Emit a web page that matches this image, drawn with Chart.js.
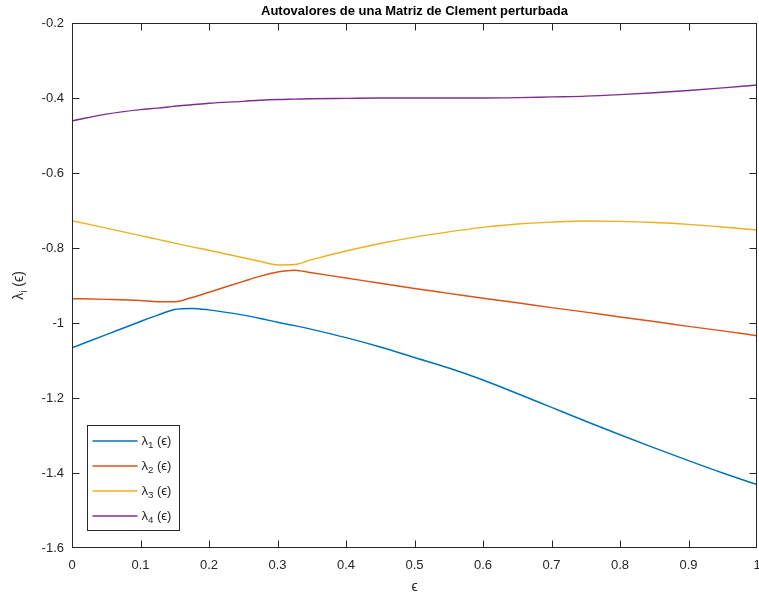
<!DOCTYPE html>
<html>
<head>
<meta charset="utf-8">
<script src="https://cdn.jsdelivr.net/npm/chart.js@4/dist/chart.umd.min.js"></script>
<style>
  html, body { margin: 0; padding: 0; background: #fff; }
  canvas { display: block; }
</style>
</head>
<body>
<canvas id="chart" width="759" height="599"></canvas>
<script>
// epsilon samples and eigenvalues
const eps = [0, 0.05, 0.1, 0.125, 0.15, 0.175, 0.2, 0.25, 0.275, 0.3, 0.325, 0.35, 0.4, 0.45, 0.5, 0.55, 0.6, 0.65, 0.7, 0.75, 0.8, 0.85, 0.9, 0.95, 1];
const lambda1 = [-1.066, -1.031, -0.996, -0.979, -0.964, -0.961, -0.965, -0.979, -0.988, -0.998, -1.007, -1.017, -1.039, -1.064, -1.092, -1.120, -1.152, -1.188, -1.225, -1.262, -1.298, -1.333, -1.367, -1.400, -1.431];
const lambda2 = [-0.935, -0.937, -0.940, -0.943, -0.943, -0.932, -0.918, -0.889, -0.875, -0.864, -0.859, -0.866, -0.880, -0.894, -0.908, -0.921, -0.934, -0.946, -0.959, -0.971, -0.984, -0.996, -1.009, -1.021, -1.034];
const lambda3 = [-0.727, -0.747, -0.767, -0.777, -0.787, -0.797, -0.806, -0.826, -0.836, -0.845, -0.844, -0.831, -0.808, -0.788, -0.771, -0.757, -0.745, -0.736, -0.731, -0.728, -0.729, -0.732, -0.737, -0.744, -0.752];
const lambda4 = [-0.461, -0.443, -0.431, -0.427, -0.422, -0.418, -0.414, -0.409, -0.406, -0.404, -0.403, -0.402, -0.401, -0.400, -0.400, -0.400, -0.400, -0.399, -0.397, -0.395, -0.391, -0.386, -0.380, -0.373, -0.365];

const seriesLabels = ['λ_1 (ϵ)', 'λ_2 (ϵ)', 'λ_3 (ϵ)', 'λ_4 (ϵ)'];
const xTicks = [0, 0.1, 0.2, 0.3, 0.4, 0.5, 0.6, 0.7, 0.8, 0.9, 1];
const yTicks = [-1.6, -1.4, -1.2, -1, -0.8, -0.6, -0.4, -0.2];
const chartTitle = 'Autovalores de una Matriz de Clement perturbada';
const xTitle = 'ϵ';
const yTitle = 'λ_i (ϵ)';

const COLORS = ['#0072BD', '#D95319', '#EDB120', '#7E2F8E'];
const AXIS = '#262626';
const FONT = "'Liberation Sans', Arial, Helvetica, sans-serif";

function fmt(v) {
    return String(parseFloat(v.toFixed(1)));
}

// draws "base_sub rest" with a lowered, smaller subscript
function drawSubText(ctx, text, x, y, size) {
    const m = text.match(/^(.*?)_(\S)(.*)$/);
    const parts = m ? [[m[1], size, 0], [m[2], size * 0.75, size * 0.35], [m[3], size, 0]] : [[text, size, 0]];
    let cx = x;
    parts.forEach(([t, s, dy]) => {
        ctx.font = s + 'px ' + FONT;
        ctx.fillText(t, cx, y + dy);
        cx += ctx.measureText(t).width;
    });
    return cx - x;
}

function measureSubText(ctx, text, size) {
    ctx.save();
    ctx.globalAlpha = 0;
    const w = drawSubText(ctx, text, 0, 0, size);
    ctx.restore();
    return w;
}

const matlabFrame = {
    id: 'matlabFrame',
    afterDraw(chart) {
        const { ctx, chartArea: a, scales: { x, y } } = chart;
        ctx.save();

        // box + inward ticks
        ctx.strokeStyle = AXIS;
        ctx.lineWidth = 1;
        const L = Math.round(a.left) + 0.5, R = Math.round(a.right) - 0.5;
        const T = Math.round(a.top) + 0.5, B = Math.round(a.bottom) - 0.5;
        ctx.strokeRect(L, T, R - L, B - T);
        ctx.beginPath();
        x.ticks.forEach(t => {
            const px = Math.min(Math.max(Math.round(x.getPixelForValue(t.value)) + 0.5, L), R);
            ctx.moveTo(px, B); ctx.lineTo(px, B - 7);
            ctx.moveTo(px, T); ctx.lineTo(px, T + 7);
        });
        y.ticks.forEach(t => {
            const py = Math.min(Math.max(Math.round(y.getPixelForValue(t.value)) + 0.5, T), B);
            ctx.moveTo(L, py); ctx.lineTo(L + 7, py);
            ctx.moveTo(R, py); ctx.lineTo(R - 7, py);
        });
        ctx.stroke();

        // title
        ctx.fillStyle = '#000';
        ctx.font = 'bold 13px ' + FONT;
        ctx.textAlign = 'center';
        ctx.textBaseline = 'middle';
        ctx.fillText(chartTitle, (a.left + a.right) / 2, 11);

        // y axis title (rotated, with subscript)
        ctx.textAlign = 'left';
        ctx.fillStyle = AXIS;
        const yw = measureSubText(ctx, yTitle, 14);
        ctx.save();
        ctx.translate(19, (a.top + a.bottom) / 2);
        ctx.rotate(-Math.PI / 2);
        drawSubText(ctx, yTitle, -yw / 2, 0, 14);
        ctx.restore();

        // legend inside lower-left corner
        const lx = Math.round(a.left) + 15.5, lw = 92;
        const rowH = 25, lh = 105;
        const ly = Math.round(a.bottom) - 17.5 - lh;
        ctx.fillStyle = '#fff';
        ctx.fillRect(lx, ly, lw, lh);
        ctx.strokeStyle = AXIS;
        ctx.lineWidth = 1;
        ctx.strokeRect(lx, ly, lw, lh);
        chart.data.datasets.forEach((ds, i) => {
            const ry = ly + 15.5 + i * rowH;
            ctx.strokeStyle = ds.borderColor;
            ctx.lineWidth = 1.5;
            ctx.beginPath();
            ctx.moveTo(lx + 5, ry);
            ctx.lineTo(lx + 50, ry);
            ctx.stroke();
            ctx.fillStyle = AXIS;
            drawSubText(ctx, ds.label, lx + 54, ry, 13);
        });

        ctx.restore();
    }
};

const series = [lambda1, lambda2, lambda3, lambda4];

new Chart(document.getElementById('chart').getContext('2d'), {
    type: 'line',
    data: {
        datasets: series.map((vals, i) => ({
            label: seriesLabels[i],
            data: eps.map((e, j) => ({ x: e, y: vals[j] })),
            borderColor: COLORS[i],
            backgroundColor: COLORS[i],
            borderWidth: 1.5,
            pointRadius: 0,
            cubicInterpolationMode: 'monotone',
            fill: false
        }))
    },
    options: {
        responsive: false,
        animation: false,
        layout: { padding: { top: 23, right: 2, left: 0, bottom: 0 } },
        plugins: {
            legend: { display: false },
            title: { display: false },
            tooltip: { enabled: false }
        },
        scales: {
            x: {
                type: 'linear',
                min: 0,
                max: 1,
                afterBuildTicks: s => { s.ticks = xTicks.map(v => ({ value: v })); },
                afterFit: s => { s.height = 51; s.paddingLeft = 0; s.paddingRight = 0; },
                grid: { display: false, drawTicks: false },
                border: { display: false },
                ticks: {
                    padding: 10,
                    color: AXIS,
                    font: { family: FONT, size: 13 },
                    maxRotation: 0,
                    callback: v => fmt(v)
                },
                title: {
                    display: true,
                    text: xTitle,
                    color: AXIS,
                    font: { family: FONT, size: 14 },
                    padding: { top: 0, bottom: 3 }
                }
            },
            y: {
                type: 'linear',
                min: -1.6,
                max: -0.2,
                afterBuildTicks: s => { s.ticks = yTicks.map(v => ({ value: v })); },
                afterFit: s => { s.width = 72; s.paddingTop = 0; s.paddingBottom = 0; },
                grid: { display: false, drawTicks: false },
                border: { display: false },
                ticks: {
                    padding: 8,
                    color: AXIS,
                    font: { family: FONT, size: 13 },
                    callback: v => fmt(v)
                }
            }
        }
    },
    plugins: [matlabFrame]
});
</script>
</body>
</html>
